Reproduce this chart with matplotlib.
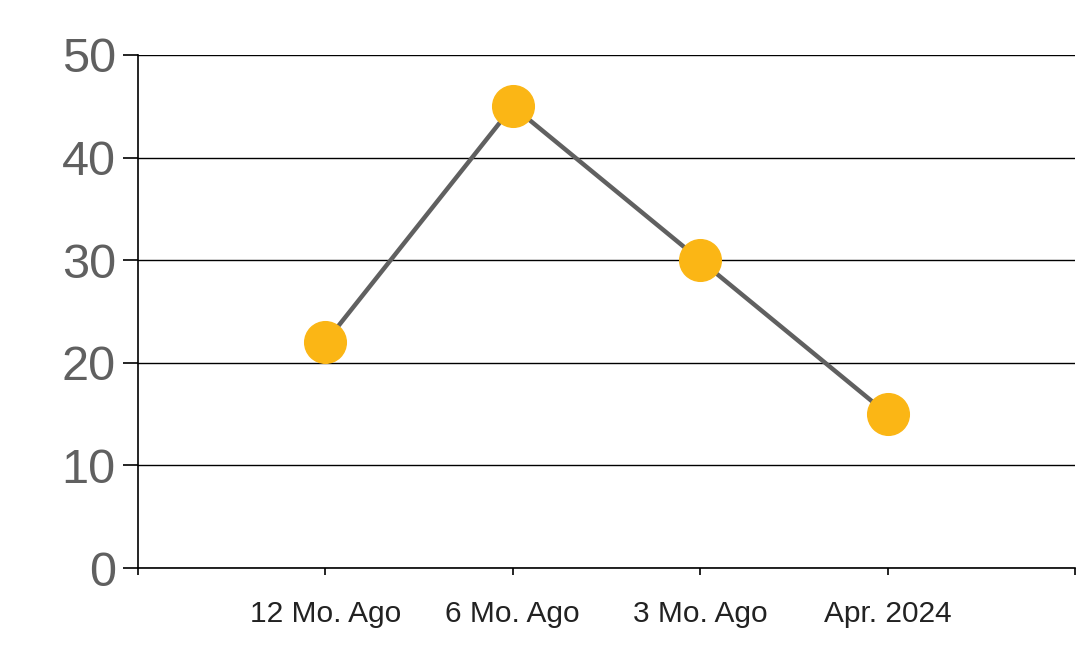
import matplotlib
matplotlib.use("Agg")
import matplotlib.pyplot as plt

# data
categories = ["12 Mo. Ago", "6 Mo. Ago", "3 Mo. Ago", "Apr. 2024"]
values = [22, 45, 30, 15]
y_ticks = [0, 10, 20, 30, 40, 50]

plt.rcParams["font.family"] = ["Liberation Sans", "DejaVu Sans"]

fig = plt.figure(figsize=(10.78, 6.63), dpi=100)
ax = fig.add_axes([138 / 1078, 1 - 568 / 663, (1075 - 138) / 1078, (568 - 55) / 663])

xs = list(range(1, len(categories) + 1))
ax.plot(xs, values, color="#606060", lw=3.2, zorder=3,
        marker="o", markersize=30, markerfacecolor="#FBB615",
        markeredgecolor="#FBB615", clip_on=False)

ax.set_xlim(0, len(categories) + 1)
ax.set_ylim(0, 50)
ax.set_yticks(y_ticks)
ax.set_yticklabels([str(v) for v in y_ticks], fontsize=35, color="#606060")
ax.set_xticks(range(0, len(categories) + 2))
ax.set_xticklabels([""] + categories + [""], fontsize=21.5, color="#222222")

ax.tick_params(axis="y", length=11, width=1.2, pad=5, color="black")
ax.tick_params(axis="x", length=5, width=1.2, pad=18, color="black")

ax.grid(axis="y", color="black", lw=1.0)
ax.set_axisbelow(True)
for sp in ("top", "right"):
    ax.spines[sp].set_visible(False)
ax.spines["left"].set_linewidth(1.2)
ax.spines["bottom"].set_linewidth(1.2)

fig.savefig("out.png", dpi=100)
